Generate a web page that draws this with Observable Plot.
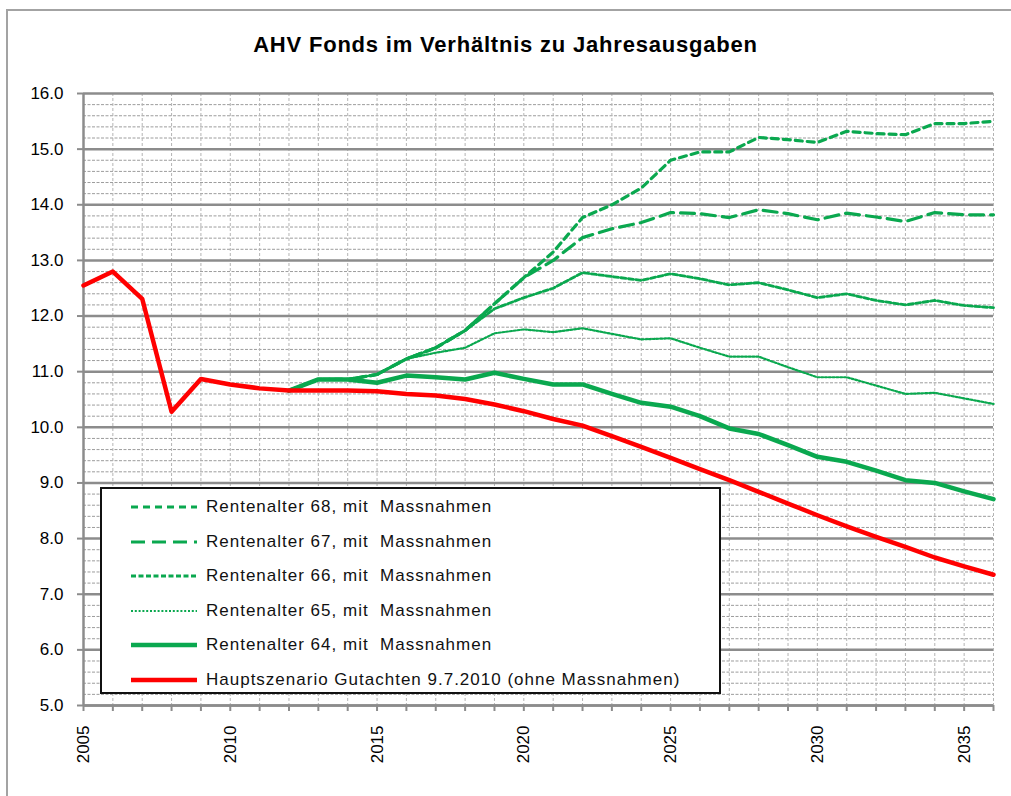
<!DOCTYPE html>
<html><head><meta charset="utf-8">
<script src="https://cdn.jsdelivr.net/npm/d3@7"></script>
<script src="https://cdn.jsdelivr.net/npm/@observablehq/plot@0.6"></script>
<style>
body{margin:0;background:#fff;font-family:"Liberation Sans",Arial,sans-serif;}
#wrap{position:relative;width:1011px;height:796px;overflow:hidden;background:#fff;}
#wrap > svg{position:absolute;left:0;top:0;}
#frame{position:absolute;left:6px;top:9px;width:1100px;height:900px;border:2px solid #a3a3a3;pointer-events:none;}
#title{position:absolute;left:0;width:1011px;top:32px;text-align:center;font-weight:bold;font-size:22px;letter-spacing:0.8px;color:#000;}
#legend{position:absolute;left:100px;top:487px;width:617px;height:203px;border:2px solid #111;background:#fff;}
.row{position:absolute;left:28px;height:22px;display:flex;align-items:center;white-space:pre;font-size:17px;letter-spacing:1px;color:#111;}
.row svg{display:block;margin-right:8px;}
</style></head>
<body><div id="wrap"></div>
<script>
const years = d3.range(2005, 2037);
const hauptszenario = [12.55, 12.8, 12.31, 10.28, 10.87, 10.77, 10.7, 10.66, 10.66, 10.66, 10.65, 10.6, 10.57, 10.51, 10.41, 10.29, 10.15, 10.03, 9.84, 9.65, 9.45, 9.25, 9.05, 8.84, 8.63, 8.42, 8.22, 8.03, 7.85, 7.66, 7.5, 7.35];
const scenarioYears = d3.range(2012, 2037);
const ra64 = [10.66, 10.86, 10.86, 10.8, 10.93, 10.9, 10.86, 10.98, 10.87, 10.77, 10.77, 10.6, 10.44, 10.37, 10.2, 9.98, 9.88, 9.68, 9.47, 9.38, 9.22, 9.05, 9.0, 8.85, 8.71];
const ra65 = [10.66, 10.86, 10.86, 10.95, 11.23, 11.34, 11.43, 11.69, 11.76, 11.71, 11.78, 11.68, 11.58, 11.6, 11.43, 11.27, 11.27, 11.08, 10.9, 10.9, 10.75, 10.6, 10.62, 10.52, 10.42];
const ra66 = [10.66, 10.86, 10.86, 10.95, 11.23, 11.43, 11.74, 12.13, 12.33, 12.5, 12.78, 12.71, 12.64, 12.76, 12.67, 12.56, 12.6, 12.47, 12.33, 12.4, 12.28, 12.2, 12.28, 12.19, 12.15];
const ra67 = [10.66, 10.86, 10.86, 10.95, 11.23, 11.43, 11.74, 12.22, 12.69, 13.0, 13.41, 13.57, 13.68, 13.86, 13.84, 13.77, 13.91, 13.84, 13.73, 13.85, 13.78, 13.7, 13.86, 13.82, 13.82];
const ra68 = [10.66, 10.86, 10.86, 10.95, 11.23, 11.43, 11.74, 12.22, 12.69, 13.15, 13.77, 14.0, 14.3, 14.8, 14.95, 14.95, 15.21, 15.17, 15.12, 15.32, 15.28, 15.26, 15.46, 15.46, 15.5];
const yTicks = d3.range(5, 17);
const yMinor = d3.range(50, 161, 2).filter(v => v % 10 !== 0).map(v => v / 10);
const xLabelYears = [2005, 2010, 2015, 2020, 2025, 2030, 2035];
const titleText = "AHV Fonds im Verhältnis zu Jahresausgaben";

const GREEN = "#0aa84f", RED = "#ff0000", GRID = "#8c8c8c";
const series = [
  {label: "Rentenalter 68, mit  Massnahmen", x: scenarioYears, y: ra68, color: GREEN, w: 3.2, dash: "7,5"},
  {label: "Rentenalter 67, mit  Massnahmen", x: scenarioYears, y: ra67, color: GREEN, w: 3.2, dash: "14,7"},
  {label: "Rentenalter 66, mit  Massnahmen", x: scenarioYears, y: ra66, color: GREEN, w: 2.8, dash: "5,2.5"},
  {label: "Rentenalter 65, mit  Massnahmen", x: scenarioYears, y: ra65, color: GREEN, w: 2.2, dash: "2,1.8"},
  {label: "Rentenalter 64, mit  Massnahmen", x: scenarioYears, y: ra64, color: GREEN, w: 4.5, dash: null},
  {label: "Hauptszenario Gutachten 9.7.2010 (ohne Massnahmen)", x: years, y: hauptszenario, color: RED, w: 4.5, dash: null}
];
const lineMarks = series.map(s => Plot.line(s.x.map((yr, i) => ({year: yr, value: s.y[i]})), {
  x: "year", y: "value", stroke: s.color, strokeWidth: s.w, strokeDasharray: s.dash || undefined, curve: "linear"
}));
const ordered = [lineMarks[3], lineMarks[2], lineMarks[1], lineMarks[0], lineMarks[4], lineMarks[5]];

const chart = Plot.plot({
  width: 1011, height: 796,
  marginLeft: 83, marginRight: 18, marginTop: 93, marginBottom: 91,
  x: {domain: [2005, 2036], label: null},
  y: {domain: [5, 16], label: null},
  style: {background: "transparent", fontFamily: "'Liberation Sans', Arial, sans-serif", color: "#000"},
  marks: [
    Plot.gridY({ticks: yMinor, stroke: "#9c9c9c", strokeOpacity: 1, strokeWidth: 1, strokeDasharray: "3,1.5"}),
    Plot.gridX({ticks: years, stroke: "#b4b4b4", strokeOpacity: 1, strokeWidth: 1, strokeDasharray: "3,2"}),
    Plot.gridY({ticks: yTicks, stroke: GRID, strokeOpacity: 1, strokeWidth: 2.5}),
    Plot.ruleX([2005], {stroke: GRID, strokeWidth: 2.5}),
    Plot.ruleY([5], {stroke: GRID, strokeWidth: 2.5}),
    Plot.axisY({ticks: yTicks, label: null, tickFormat: d => d.toFixed(1), tickSize: 6, tickPadding: 14, stroke: GRID, strokeWidth: 2, fontSize: 17}),
    Plot.axisX({ticks: years, label: null, tickSize: 6, tickFormat: () => "", stroke: GRID, strokeWidth: 2}),
    Plot.axisX({ticks: xLabelYears, label: null, tickSize: 0, tickPadding: 20, tickRotate: -90, fontSize: 17, tickFormat: d => String(d)}),
    ...ordered
  ]
});
const wrap = document.getElementById("wrap");
wrap.appendChild(chart);

const title = document.createElement("div");
title.id = "title"; title.textContent = titleText;
wrap.appendChild(title);

const legend = document.createElement("div");
legend.id = "legend";
const rowTops = [18, 53, 87, 122, 156, 191];
series.forEach((s, i) => {
  const row = document.createElement("div");
  row.className = "row";
  row.style.top = (rowTops[i] - 11) + "px";
  const ns = "http://www.w3.org/2000/svg";
  const sv = document.createElementNS(ns, "svg");
  sv.setAttribute("width", 68); sv.setAttribute("height", 10);
  const ln = document.createElementNS(ns, "line");
  ln.setAttribute("x1", 1); ln.setAttribute("x2", 67); ln.setAttribute("y1", 5); ln.setAttribute("y2", 5);
  ln.setAttribute("stroke", s.color); ln.setAttribute("stroke-width", s.w);
  if (s.dash) ln.setAttribute("stroke-dasharray", s.dash);
  sv.appendChild(ln);
  row.appendChild(sv);
  const t = document.createElement("span");
  t.textContent = s.label;
  row.appendChild(t);
  legend.appendChild(row);
});
wrap.appendChild(legend);

const frame = document.createElement("div");
frame.id = "frame";
wrap.appendChild(frame);
</script>
</body></html>
